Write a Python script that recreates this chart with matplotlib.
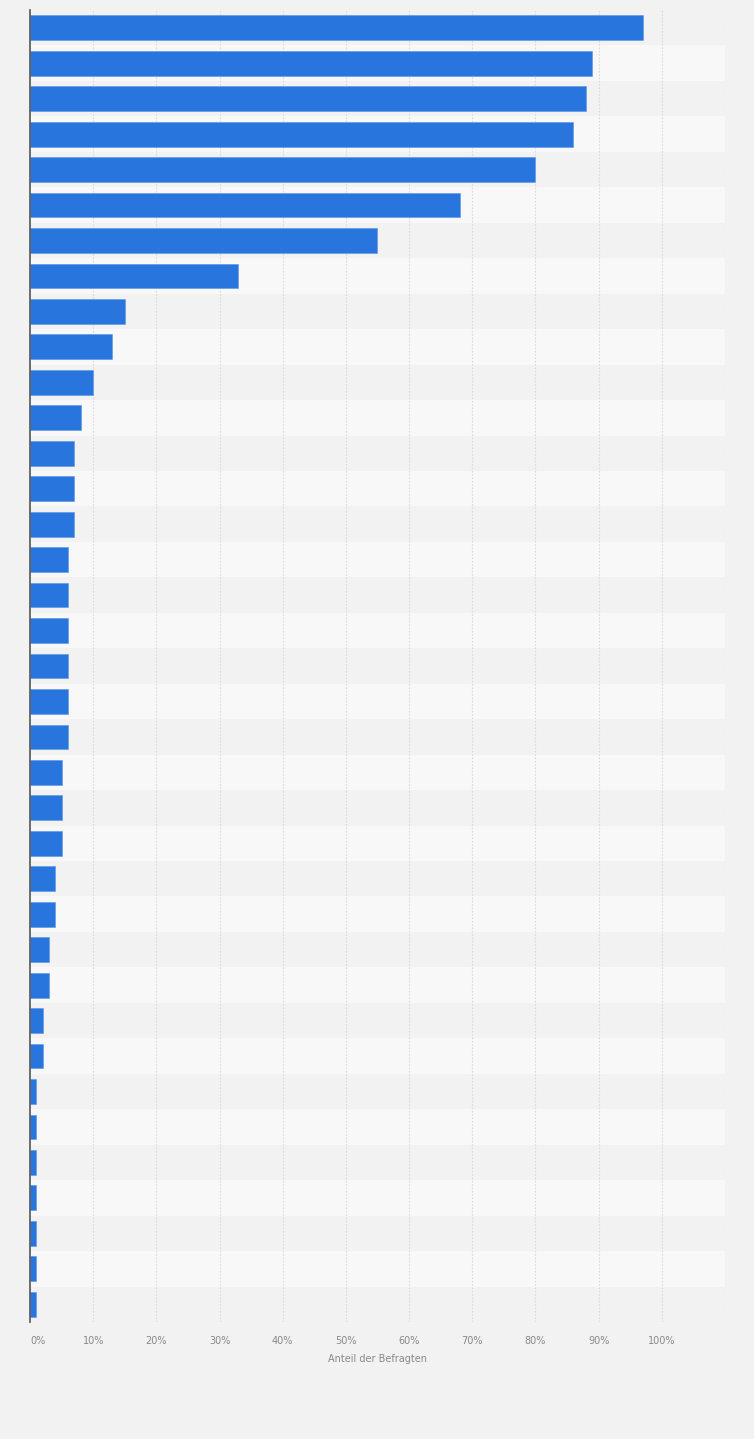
import matplotlib.pyplot as plt
import numpy as np

# Anteil der Befragten in % (von oben nach unten)
werte = [97, 89, 88, 86, 80, 68, 55, 33, 15, 13, 10, 8, 7, 7, 7, 6, 6, 6, 6, 6, 6,
         5, 5, 5, 4, 4, 3, 3, 2, 2, 1, 1, 1, 1, 1, 1, 1]
x_ticks = [0, 10, 20, 30, 40, 50, 60, 70, 80, 90, 100]
x_labels = [str(t) + '%' for t in x_ticks]

fig = plt.figure(figsize=(7.54, 14.39), dpi=100)
fig.patch.set_facecolor('#f2f2f2')
ax = fig.add_axes([30 / 754, 1 - 1322 / 1439, 695 / 754, 1312 / 1439])
ax.set_facecolor('#f2f2f2')

n = len(werte)
pos = np.arange(n)
# abwechselnde Zeilen
for i in range(n):
    c = '#f2f2f2' if i % 2 == 0 else '#f8f8f8'
    ax.axhspan(i - 0.5, i + 0.5, color=c, zorder=0, lw=0)

for g in range(10, 120, 10):
    ax.axvline(g, color='#dadada', lw=0.8, ls=(0, (1.5, 1.5)), zorder=1)

ax.barh(pos, werte, height=0.7, color='#2876dd', edgecolor='#5a97e6', lw=0.4, zorder=3)

ax.set_xlim(0, 110)
ax.set_ylim(n - 0.5, -0.5)
ax.set_yticks([])
ax.set_xticks(x_ticks)
ax.set_xticklabels(x_labels, fontsize=7, color='#888888')
ax.get_xticklabels()[0].set_horizontalalignment('left')
ax.tick_params(axis='x', length=0, pad=10)
ax.set_xlabel('Anteil der Befragten', fontsize=7, color='#888888', labelpad=6)

for s in ['top', 'right', 'bottom']:
    ax.spines[s].set_visible(False)
ax.spines['left'].set_color('#555555')
ax.spines['left'].set_linewidth(1.2)
ax.spines['left'].set_zorder(4)

fig.savefig('out.png', dpi=100, facecolor=fig.get_facecolor())
